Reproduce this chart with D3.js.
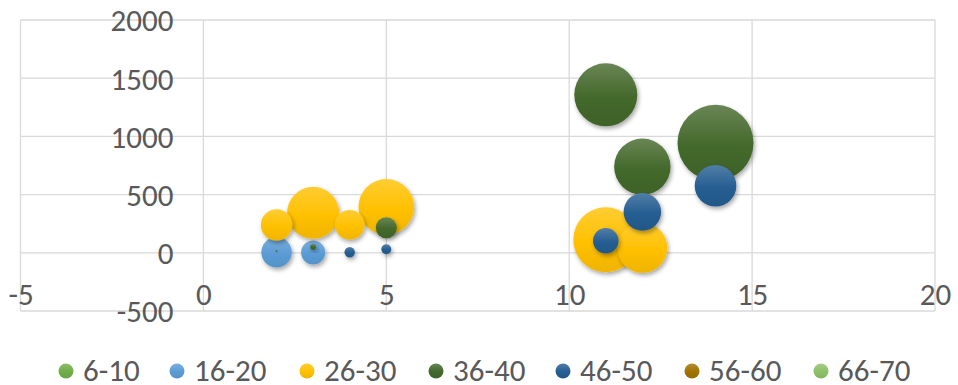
<!DOCTYPE html>
<html>
<head>
<meta charset="utf-8">
<script src="https://cdn.jsdelivr.net/npm/d3@7"></script>
<style>
  html, body { margin: 0; padding: 0; background: #fff; }
  svg text { font-family: Carlito, Calibri, "Liberation Sans", Arial, sans-serif; fill: #595959; }
</style>
</head>
<body>
<svg id="chart" width="958" height="385"></svg>
<script>
// ---- data ----
const seriesNames = ["6-10", "16-20", "26-30", "36-40", "46-50", "56-60", "66-70"];
const seriesColors = ["#70AD47", "#5B9BD5", "#FFC000", "#43682B", "#255E91", "#A07300", "#8CC168"];

const x_6_10 = [];   const y_6_10 = [];   const size_6_10 = [];
const x_16_20 = [2, 3];            const y_16_20 = [5, 2];              const size_16_20 = [160, 100];
const x_26_30 = [2, 3, 4, 5, 11, 12];
const y_26_30 = [240, 344, 240, 395, 112, 43];
const size_26_30 = [171, 468, 152, 535, 731, 433];
const x_36_40 = [2, 3, 5, 11, 12, 14];
const y_36_40 = [15, 50, 215, 1357, 739, 945];
const size_36_40 = [0.7, 6, 76, 687, 551, 1000];
const x_46_50 = [4, 5, 11, 12, 14];
const y_46_50 = [5, 30, 103, 352, 576];
const size_46_50 = [19, 17, 113, 245, 300];
const x_56_60 = [];  const y_56_60 = [];  const size_56_60 = [];
const x_66_70 = [];  const y_66_70 = [];  const size_66_70 = [];

const xTicks = [-5, 0, 5, 10, 15, 20];
const yTicks = [-500, 0, 500, 1000, 1500, 2000];

const seriesX = [x_6_10, x_16_20, x_26_30, x_36_40, x_46_50, x_56_60, x_66_70];
const seriesY = [y_6_10, y_16_20, y_26_30, y_36_40, y_46_50, y_56_60, y_66_70];
const seriesS = [size_6_10, size_16_20, size_26_30, size_36_40, size_46_50, size_56_60, size_66_70];

// ---- layout ----
const svg = d3.select("#chart");
const plot = { left: 20.5, right: 935, top: 20, bottom: 311 };
const x = d3.scaleLinear().domain([-5, 20]).range([plot.left, plot.right]);
const y = d3.scaleLinear().domain([-500, 2000]).range([plot.bottom, plot.top]);
const allSizes = seriesS.flat();
const r = d3.scaleSqrt().domain([0, d3.max(allSizes)]).range([0, 38]);
const fmt = d => String(d);

const defs = svg.append("defs");
const shadow = defs.append("filter").attr("id", "shadow")
  .attr("x", "-50%").attr("y", "-50%").attr("width", "200%").attr("height", "200%");
shadow.append("feDropShadow").attr("dx", 1.5).attr("dy", 2.5).attr("stdDeviation", 2.2)
  .attr("flood-color", "#000").attr("flood-opacity", 0.35);

seriesColors.forEach((c, i) => {
  const g = defs.append("linearGradient").attr("id", "grad" + i)
    .attr("x1", 0).attr("y1", 0).attr("x2", 0).attr("y2", 1);
  g.append("stop").attr("offset", "0%").attr("stop-color", d3.interpolateRgb(c, "#fff")(0.2));
  g.append("stop").attr("offset", "55%").attr("stop-color", c);
  g.append("stop").attr("offset", "100%").attr("stop-color", d3.interpolateRgb(c, "#000")(0.06));
});

// gridlines
svg.append("g").selectAll("line.v").data(xTicks).join("line")
  .attr("x1", d => x(d)).attr("x2", d => x(d))
  .attr("y1", plot.top).attr("y2", plot.bottom)
  .attr("stroke", "#D9D9D9").attr("stroke-width", 1.3);
svg.append("g").selectAll("line.h").data(yTicks).join("line")
  .attr("x1", plot.left).attr("x2", plot.right)
  .attr("y1", d => y(d)).attr("y2", d => y(d))
  .attr("stroke", "#D9D9D9").attr("stroke-width", 1.3);

// axes with labels next to the zero crossings
const yAxis = d3.axisLeft(y).tickValues(yTicks).tickSize(0).tickPadding(30).tickFormat(fmt);
const yg = svg.append("g").attr("transform", `translate(${x(0)},0)`).call(yAxis);
yg.select(".domain").remove();
yg.selectAll("text").style("font-size", "31px").attr("dy", "0.35em").attr("fill", "#595959");

const xAxis = d3.axisBottom(x).tickValues(xTicks).tickSize(0).tickPadding(41).tickFormat(fmt);
const xg = svg.append("g").attr("transform", `translate(0,${y(0)})`).call(xAxis);
xg.select(".domain").remove();
xg.selectAll("text").style("font-size", "31px").attr("dy", "0.35em").attr("fill", "#595959");

// bubbles in series order
const bubbles = svg.append("g");
seriesNames.forEach((name, i) => {
  const pts = seriesX[i].map((xv, j) => ({ x: xv, y: seriesY[i][j], s: seriesS[i][j] }));
  pts.sort((a, b) => b.s - a.s);
  bubbles.append("g").selectAll("circle").data(pts).join("circle")
    .attr("cx", d => x(d.x)).attr("cy", d => y(d.y)).attr("r", d => r(d.s))
    .attr("fill", `url(#grad${i})`).attr("filter", "url(#shadow)");
});

// legend
const legendX = [66, 177, 307, 436, 563, 692, 821];
const lg = svg.append("g");
seriesNames.forEach((name, i) => {
  const item = lg.append("g").attr("transform", `translate(${legendX[i]},371)`);
  item.append("circle").attr("r", 7.5).attr("fill", `url(#grad${i})`);
  item.append("text").attr("x", 17).attr("y", 10).style("font-size", "31px").text(name);
});
</script>
</body>
</html>
